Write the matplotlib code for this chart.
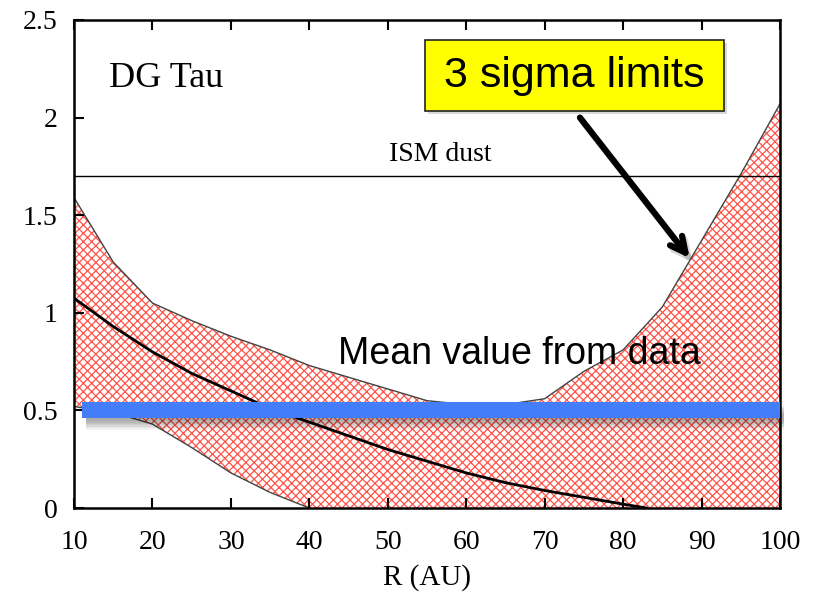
import matplotlib
matplotlib.use("Agg")
import matplotlib.pyplot as plt
import matplotlib.patheffects as pe
from matplotlib.patches import Rectangle

# Radius grid (AU) and 3-sigma band limits
r_band = [10, 15, 20, 25, 30, 35, 40, 45, 50, 55, 60, 65, 70, 75, 80, 85, 90, 95, 100]
upper = [1.59, 1.26, 1.05, 0.96, 0.88, 0.81, 0.73, 0.67, 0.61, 0.55, 0.53, 0.53, 0.56,
         0.70, 0.81, 1.03, 1.37, 1.71, 2.07]
lower = [0.52, 0.49, 0.43, 0.31, 0.18, 0.08, 0.0, 0.0, 0.0, 0.0, 0.0, 0.0, 0.0,
         0.0, 0.0, 0.0, 0.0, 0.0, 0.0]

# Best-fit profile
r_fit = [10, 15, 20, 25, 30, 35, 40, 45, 50, 55, 60, 65, 70, 75, 80, 83]
v_fit = [1.075, 0.93, 0.80, 0.69, 0.60, 0.51, 0.44, 0.37, 0.30, 0.24, 0.18, 0.13,
         0.09, 0.055, 0.02, 0.0]

ism_value = 1.7
mean_value = 0.5

x_ticks = [10, 20, 30, 40, 50, 60, 70, 80, 90, 100]
y_ticks = [0, 0.5, 1, 1.5, 2, 2.5]
y_tick_labels = ["0", "0.5", "1", "1.5", "2", "2.5"]

serif = ["Liberation Serif", "DejaVu Serif"]
sans = ["Liberation Sans", "DejaVu Sans"]

plt.rcParams["hatch.linewidth"] = 0.9

fig = plt.figure(figsize=(8.18, 5.97), dpi=100)
ax = fig.add_axes([0.0905, 0.149, 0.863, 0.8175])

ax.fill_between(r_band, lower, upper, facecolor="white", edgecolor="#ff5448",
                hatch="xxxx", linewidth=0, zorder=1)
ax.plot(r_band, upper, color="#444444", lw=1.0, zorder=2)
ax.plot(r_band[:7], lower[:7], color="#444444", lw=1.0, zorder=2)

ax.plot(r_fit, v_fit, color="black", lw=2.0, zorder=3)
ax.axhline(ism_value, color="black", lw=1.0, zorder=3)

# Mean value bar with a soft drop shadow
soft_shadow = [pe.SimpleLineShadow(offset=(3, -dy), shadow_color="black", alpha=0.05)
               for dy in (2, 3, 4, 5, 6, 7, 8)]
ax.plot([11, 100], [mean_value, mean_value], color="#437df8", lw=11.5,
        solid_capstyle="butt", zorder=5, clip_on=False,
        path_effects=soft_shadow + [pe.Normal()])

ax.set_xlim(10, 100)
ax.set_ylim(0, 2.5)
ax.set_xticks(x_ticks)
ax.set_xticklabels([str(t) for t in x_ticks], fontfamily=serif, fontsize=20)
ax.set_yticks(y_ticks)
ax.set_yticklabels(y_tick_labels, fontfamily=serif, fontsize=20)
ax.tick_params(direction="in", length=7, width=1.5, top=True, right=False)
ax.tick_params(axis="x", pad=16)
ax.tick_params(axis="y", pad=12)
for s in ax.spines.values():
    s.set_linewidth(1.8)

ax.set_xlabel("R (AU)", fontfamily=serif, fontsize=21, labelpad=6)

ax.text(14.4, 2.2, "DG Tau", fontfamily=serif, fontsize=26, va="center", ha="left")
ax.text(56.7, 1.745, "ISM dust", fontfamily=serif, fontsize=20, va="bottom", ha="center")
ax.text(43.6, 0.79, "Mean value from data", fontfamily=sans, fontsize=27,
        va="center", ha="left", zorder=6)

# Callout box and arrow
box = Rectangle((54.75, 2.034), 38.1, 0.363, facecolor="#ffff00", edgecolor="#222222",
                lw=1.2, zorder=6,
                path_effects=[pe.SimplePatchShadow(offset=(2, -2), shadow_rgbFace="black", alpha=0.15),
                              pe.Normal()])
ax.add_patch(box)
ax.text(73.8, 2.215, "3 sigma limits", fontfamily=sans, fontsize=31,
        va="center", ha="center", zorder=7)
ax.annotate("", xy=(88.5, 1.28), xytext=(74.5, 2.0),
            arrowprops=dict(arrowstyle="->,head_length=1.1,head_width=0.55", color="black",
                            lw=4.5, shrinkA=0, shrinkB=0,
                            path_effects=[pe.SimpleLineShadow(offset=(2, -3), alpha=0.15),
                                          pe.Normal()]),
            zorder=7)

fig.savefig("out.png", dpi=100)
